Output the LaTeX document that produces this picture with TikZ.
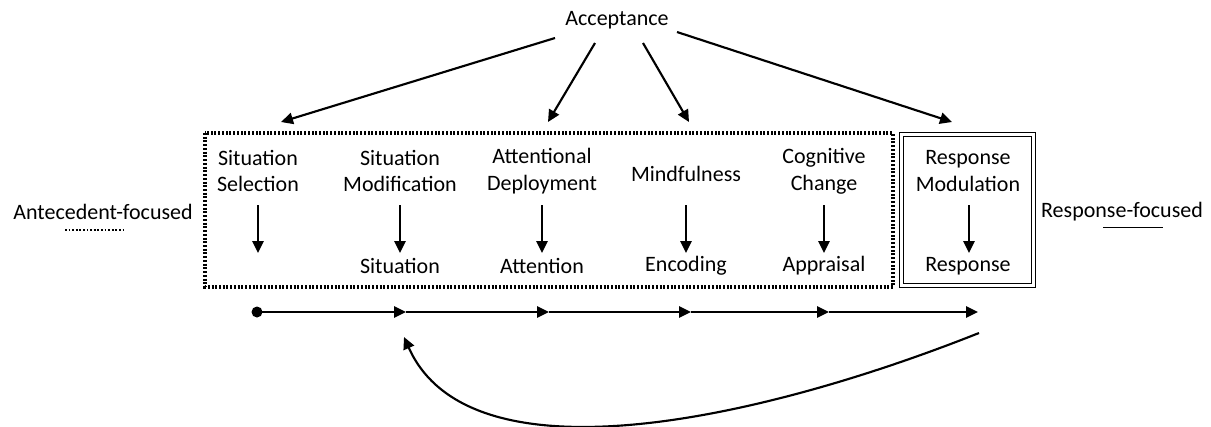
\documentclass[tikz,border=0pt]{standalone}
\usepackage{fontspec}
\setmainfont{Carlito}
\usetikzlibrary{arrows.meta}
\begin{document}
\begin{tikzpicture}[x=0.75pt,y=-0.75pt,
  txt/.style={inner sep=0pt,align=center,font=\fontsize{16.5}{20}\selectfont},
  arr/.style={line width=1.6pt,-{Triangle[length=9pt,width=8.5pt]}},
  dotbox/.style={line width=2.3pt,dash pattern=on 1.5pt off 1.3pt},
  dblbox/.style={draw,double,line width=1pt,double distance=1.6pt}]
\useasboundingbox (0,0) rectangle (1211,426);
% top label
\node[txt] (acc) at (617,20) {Acceptance};
% boxes
\draw[dotbox] (205,133) rectangle (893,287);
\draw[dblbox] (901.5,134.5) rectangle (1033.5,285.5);
% column heads
\node[txt] (h1) at (258,171) {Situation\\Selection};
\node[txt] (h2) at (400,171) {Situation\\Modification};
\node[txt] (h3) at (542,171) {Attentional\\Deployment};
\node[txt] (h4) at (686,174) {Mindfulness};
\node[txt] (h5) at (824,171) {Cognitive\\Change};
\node[txt] (h6) at (968,171) {Response\\Modulation};
% bottom labels
\node[txt] (b2) at (400,266) {Situation};
\node[txt] (b3) at (542,266) {Attention};
\node[txt] (b4) at (686,266) {Encoding};
\node[txt] (b5) at (824,266) {Appraisal};
\node[txt] (b6) at (968,266) {Response};
% side labels
\node[txt] (ante) at (103,212) {Antecedent-focused};
\node[txt] (resp) at (1122,212) {Response-focused};
\coordinate (u1a) at (65,230); \coordinate (u1b) at (123,230);
\draw[line width=2pt,dash pattern=on 1.4pt off 1.3pt] (u1a) -- (u1b);
\coordinate (u2a) at (1103,228); \coordinate (u2b) at (1163,228);
\draw[line width=0.7pt,double,double distance=0.5pt] (u2a) -- (u2b);
% acceptance arrows
\coordinate (s1) at (555,38); \coordinate (e1) at (281,122);
\coordinate (s2) at (595,43); \coordinate (e2) at (548,122);
\coordinate (s3) at (643,43); \coordinate (e3) at (689,122);
\coordinate (s4) at (677,32); \coordinate (e4) at (952,122);
\draw[arr] (s1) -- (e1);
\draw[arr] (s2) -- (e2);
\draw[arr] (s3) -- (e3);
\draw[arr] (s4) -- (e4);
% down arrows
\foreach \i/\x in {1/258,2/400,3/542,4/686,5/824,6/969}{
  \coordinate (d\i s) at (\x,205);
  \coordinate (d\i e) at (\x,253);
  \draw[arr] (d\i s) -- (d\i e);
}
% timeline
\coordinate (t0) at (257,312);
\coordinate (t1) at (406,312);
\coordinate (t2) at (549,312);
\coordinate (t3) at (691,312);
\coordinate (t4) at (829,312);
\coordinate (t5) at (978,312);
\fill (t0) circle (5.5);
\draw[arr] (t0) -- (t1);
\draw[arr] (t1) -- (t2);
\draw[arr] (t2) -- (t3);
\draw[arr] (t3) -- (t4);
\draw[arr] (t4) -- (t5);
% feedback curve
\coordinate (fb0) at (979,333);
\coordinate (fb1) at (404,337);
\draw[arr] (fb0) .. controls (760,420) and (470,485) .. (fb1);
\end{tikzpicture}
\end{document}
